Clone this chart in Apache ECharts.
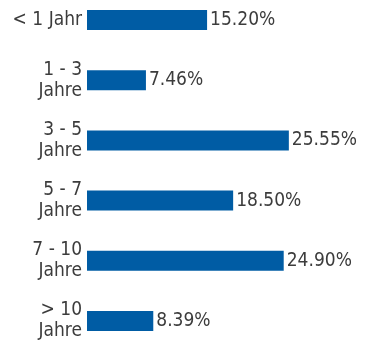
<!DOCTYPE html>
<html>
<head>
<meta charset="utf-8">
<script src="https://cdn.jsdelivr.net/npm/echarts@6/dist/echarts.min.js"></script>
<style>
  html, body { margin: 0; padding: 0; background: #fff; }
  #chart { width: 372px; height: 341px; }
</style>
</head>
<body>
<div id="chart"></div>
<script>
// Restlaufzeiten und ihre Anteile
const categories = ['< 1 Jahr', '1 - 3\nJahre', '3 - 5\nJahre', '5 - 7\nJahre', '7 - 10\nJahre', '> 10\nJahre'];
const shares = [15.20, 7.46, 25.55, 18.50, 24.90, 8.39];

const textColor = '#3c3c3c';
const fontFamily = '"DejaVu Sans Condensed", sans-serif';

const chart = echarts.init(document.getElementById('chart'));
chart.setOption({
  animation: false,
  grid: { left: 87, right: 48, top: -10, bottom: -10, outerBoundsMode: 'none', containLabel: false },
  xAxis: {
    type: 'value',
    min: 0,
    max: 30,
    show: false
  },
  yAxis: {
    type: 'category',
    data: categories,
    inverse: true,
    axisLine: { show: false },
    axisTick: { show: false },
    splitLine: { show: false },
    axisLabel: {
      color: textColor,
      fontFamily: fontFamily,
      fontSize: 19,
      lineHeight: 21,
      align: 'right',
      margin: 5
    }
  },
  series: [{
    type: 'bar',
    data: shares,
    barWidth: 20,
    itemStyle: { color: '#005ca4' },
    label: {
      show: true,
      position: 'right',
      distance: 3,
      color: textColor,
      fontFamily: fontFamily,
      fontSize: 19,
      formatter: p => p.value.toFixed(2) + '%'
    }
  }]
});
</script>
</body>
</html>
